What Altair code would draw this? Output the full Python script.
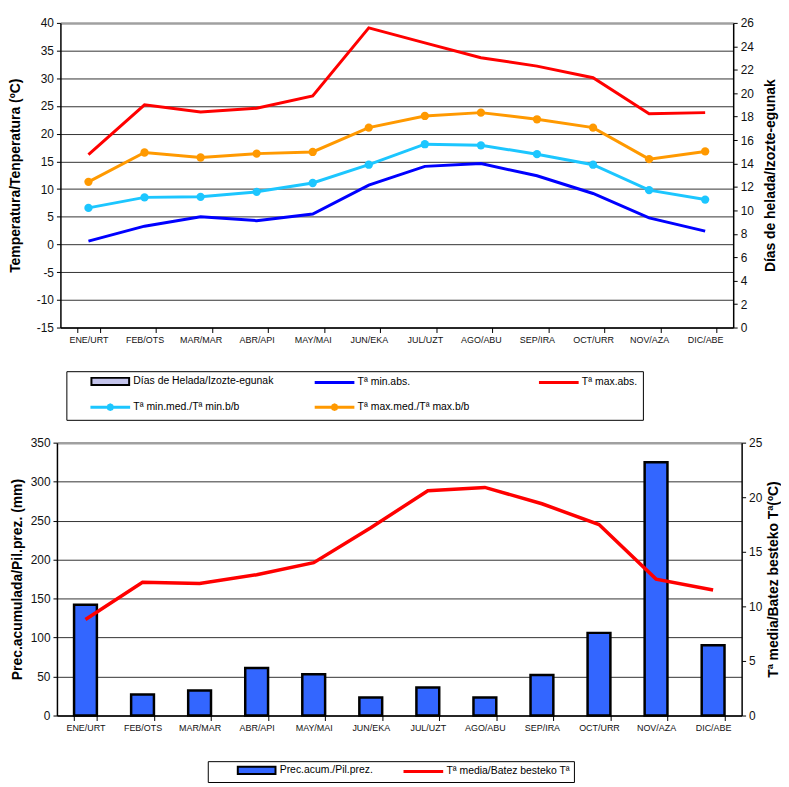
import math
import altair as alt
import pandas as pd

# ---------------- data ----------------
months = ["ENE/URT", "FEB/OTS", "MAR/MAR", "ABR/API", "MAY/MAI", "JUN/EKA",
          "JUL/UZT", "AGO/ABU", "SEP/IRA", "OCT/URR", "NOV/AZA", "DIC/ABE"]

t_max_abs = [16.2, 25.2, 23.9, 24.6, 26.8, 39.1, 36.4, 33.7, 32.2, 30.1, 23.6, 23.8]
t_max_med = [11.3, 16.6, 15.7, 16.4, 16.7, 21.1, 23.2, 23.8, 22.6, 21.1, 15.4, 16.8]
t_min_med = [6.6, 8.5, 8.6, 9.5, 11.1, 14.4, 18.1, 17.9, 16.3, 14.4, 9.8, 8.1]
t_min_abs = [0.6, 3.3, 5.0, 4.3, 5.5, 10.7, 14.1, 14.6, 12.4, 9.2, 4.8, 2.4]
frost_days = [0, 0, 0, 0, 0, 0, 0, 0, 0, 0, 0, 0]

precip = [142, 27, 32, 61, 53, 23, 36, 23, 52, 106, 325, 90]
t_media = [8.8, 12.2, 12.1, 12.9, 14.0, 17.2, 20.6, 20.9, 19.4, 17.5, 12.5, 11.5]

top_series = ["Días de Helada/Izozte-egunak", "Tª min.abs.", "Tª max.abs.",
              "Tª min.med./Tª min.b/b", "Tª max.med./Tª max.b/b"]
bottom_series = ["Prec.acum./Pil.prez.", "Tª media/Batez besteko Tª"]

temp_ticks = list(range(-15, 41, 5))
frost_ticks = list(range(0, 27, 2))
prec_ticks = list(range(0, 351, 50))
tmed_ticks = list(range(0, 26, 5))

# ---------------- styles ----------------
FONT = "Liberation Sans"
C_FROST = "#c4c4ec"
C_MINABS = "#0000ff"
C_MAXABS = "#ff0000"
C_MINMED = "#1cc6ff"
C_MAXMED = "#ff9900"
C_PREC = "#3366ff"
C_TMED = "#ff0000"
GRID = "#333333"
FSP = "\u2007"  # figure space, used to widen the legend frame


def glyphs(blank):
    """Legend glyph paths: nominal symbol box 8px (unit 4px); the glyph starts
    `blank` px into the entry and is 38px long; the label follows it."""
    x0 = -1 + blank / 4.0
    x1 = x0 + 38 / 4.0

    def rect(h):
        return f"M{x0:.3f},{-h}H{x1:.3f}V{h}H{x0:.3f}Z"

    def dot(r):
        cx = (x0 + x1) / 2
        pts = [(cx + r * math.cos(k * math.pi / 4), r * math.sin(k * math.pi / 4)) for k in range(8)]
        return "M" + "L".join(f"{x:.3f},{y:.3f}" for x, y in pts) + "Z"

    return rect(0.9), rect(0.12), rect(0.12) + dot(0.7), blank + 38 + 3 - 8


def keyed(series):
    # ordering key so that legend entries keep the original order
    return [f"{i}|{s}" for i, s in enumerate(series)]


def make_legend(lx, ly, columns, colpad, align, pad, offset, pad_index, n_pad):
    expr = (f"datum.index === {pad_index} ? "
            f"slice(datum.label, 2) + '{FSP * n_pad}' : slice(datum.label, 2)")
    return alt.Legend(
        title=None, orient="none", legendX=lx, legendY=ly, columns=columns,
        direction="horizontal", labelExpr=expr,
        gridAlign=align, columnPadding=colpad, rowPadding=11,
        strokeColor="black", padding=pad,
        labelFont=FONT, labelFontSize=10.5, labelColor="black", labelOffset=offset,
        symbolSize=64, symbolStrokeWidth=2, symbolOpacity=1,
    )


def legend_layer(series, fills, strokes, shapes, legend):
    keys = keyed(series)
    df = pd.DataFrame({"series": keys})
    return alt.Chart(df).transform_filter("false").mark_point(
        filled=True, opacity=1, strokeWidth=2
    ).encode(
        color=alt.Color("series:N", scale=alt.Scale(domain=keys, range=fills), legend=legend),
        stroke=alt.Stroke("series:N", scale=alt.Scale(domain=keys, range=strokes), legend=legend),
        shape=alt.Shape("series:N", scale=alt.Scale(domain=keys, range=shapes), legend=legend),
    )


def x_axis():
    return alt.Axis(title=None, labelAngle=0, tickBand="extent", tickSize=5,
                    domainColor="black", domainWidth=1.5, tickColor="black",
                    labelFont=FONT, labelFontSize=9, labelColor="#111", labelPadding=3,
                    grid=False)


def x_enc(center):
    kw = dict(sort=months, scale=alt.Scale(domain=months, paddingInner=0.6, paddingOuter=0.3),
              axis=x_axis())
    if center:
        kw["bandPosition"] = 0.5
    return alt.X("month:N", **kw)


def left_axis(title, ticks, top, tpad):
    return alt.Axis(
        title=title, orient="left", values=ticks, grid=True,
        labelExpr="datum.value < 0 ? '-' + abs(datum.value) : datum.label",
        gridColor={"condition": {"test": f"datum.value === {top}", "value": "#a0a0a0"}, "value": GRID},
        gridWidth={"condition": {"test": f"datum.value === {top}", "value": 2.5}, "value": 1},
        domainColor="black", domainWidth=1.5, tickColor="black", tickSize=4,
        labelFont=FONT, labelFontSize=12, labelColor="#111", labelPadding=3,
        titleFont=FONT, titleFontSize=14, titleFontWeight="bold", titleColor="black",
        titlePadding=tpad,
    )


def right_axis(title, ticks, tpad):
    return alt.Axis(
        title=title, orient="right", values=ticks, grid=False,
        domainColor="black", domainWidth=1.5, tickColor="black", tickSize=4,
        labelFont=FONT, labelFontSize=12, labelColor="#111", labelPadding=3,
        titleFont=FONT, titleFontSize=14, titleFontWeight="bold", titleColor="black",
        titleAngle=270, titleBaseline="middle", titlePadding=tpad,
    )


# ---------------- top chart ----------------
top_df = pd.DataFrame({
    "month": months, "t_max_abs": t_max_abs, "t_max_med": t_max_med,
    "t_min_med": t_min_med, "t_min_abs": t_min_abs, "frost_days": frost_days,
})

t_scale = alt.Scale(domain=[-15, 40], nice=False, zero=False)
t_axis = left_axis("Temperatura/Tenperatura (ºC)", temp_ticks, 40, 14)
tb = alt.Chart(top_df)


def temp_line(field, color):
    return tb.mark_line(color=color, strokeWidth=3).encode(
        x=x_enc(True), y=alt.Y(f"{field}:Q", scale=t_scale, axis=t_axis))


def temp_dots(field, color):
    return tb.mark_circle(color=color, size=70, opacity=1).encode(
        x=x_enc(True), y=alt.Y(f"{field}:Q", scale=t_scale, axis=t_axis))


temps = alt.layer(
    temp_line("t_max_abs", C_MAXABS),
    temp_line("t_max_med", C_MAXMED),
    temp_line("t_min_med", C_MINMED),
    temp_line("t_min_abs", C_MINABS),
    temp_dots("t_max_med", C_MAXMED),
    temp_dots("t_min_med", C_MINMED),
)

frost = tb.mark_bar(fill=C_FROST).encode(
    x=x_enc(False),
    y=alt.Y("frost_days:Q", scale=alt.Scale(domain=[0, 26], nice=False),
            axis=right_axis("Días de helada/Izozte-egunak", frost_ticks, 17)),
)

tg_bar, tg_line, tg_dot, t_off = glyphs(19)
top_leg = legend_layer(
    top_series,
    [C_FROST, C_MINABS, C_MAXABS, C_MINMED, C_MAXMED],
    ["black", C_MINABS, C_MAXABS, C_MINMED, C_MAXMED],
    [tg_bar, tg_line, tg_line, tg_dot, tg_dot],
    make_legend(6, 351, 3, 22, "all", 5, t_off, 2, 15),
)

top = alt.layer(frost, temps, top_leg).resolve_scale(y="independent").properties(
    width=678, height=307)

# ---------------- bottom chart ----------------
bot_df = pd.DataFrame({"month": months, "precip": precip, "t_media": t_media})
bb = alt.Chart(bot_df)

bars = bb.mark_bar(fill=C_PREC, stroke="black", strokeWidth=2.5).encode(
    x=x_enc(False),
    y=alt.Y("precip:Q", scale=alt.Scale(domain=[0, 350], nice=False),
            axis=left_axis("Prec.acumulada/Pil.prez. (mm)", prec_ticks, 350, 6)),
)
tline = bb.mark_line(color=C_TMED, strokeWidth=3.5).encode(
    x=x_enc(True),
    y=alt.Y("t_media:Q", scale=alt.Scale(domain=[0, 25], nice=False),
            axis=right_axis("Tª media/Batez besteko Tª(ºC)", tmed_ticks, 12)),
)
bg_bar, bg_line, _, b_off = glyphs(25)
bot_leg = legend_layer(
    bottom_series,
    [C_PREC, C_TMED],
    ["black", C_TMED],
    [bg_bar, bg_line],
    make_legend(152, 321, 2, 5, "each", 4, b_off, 1, 4),
)

bottom = alt.layer(bars, tline, bot_leg).resolve_scale(y="independent").properties(
    width=690, height=275)

chart = alt.vconcat(top, bottom, spacing=16, center=True).resolve_scale(
    color="independent", stroke="independent", shape="independent"
).resolve_legend(
    color="independent", stroke="independent", shape="independent"
).properties(
    padding={"left": 0, "top": 6, "right": 0, "bottom": 0},
).configure(font=FONT).configure_view(stroke=None)

chart.save("out.html", embed_options={"renderer": "svg", "actions": False})
